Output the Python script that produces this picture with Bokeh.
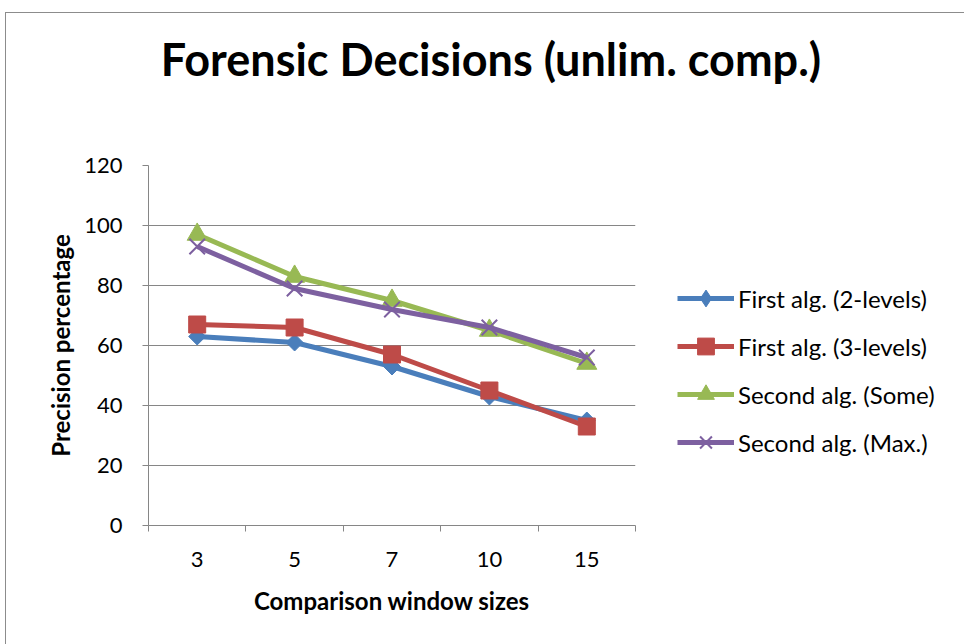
import math
from bokeh.plotting import figure
from bokeh.models import (ColumnDataSource, FixedTicker, Legend, LegendItem, Range1d, Div)
from bokeh.layouts import column, row
from bokeh.embed import file_html
from bokeh.resources import INLINE

categories = ["3", "5", "7", "10", "15"]
first_2_levels = [63, 61, 53, 43, 35]
first_3_levels = [67, 66, 57, 45, 33]
second_some = [97, 83, 75, 65, 54]
second_max = [93, 79, 72, 66, 56]
y_ticks = [0, 20, 40, 60, 80, 100, 120]

title_text = "Forensic Decisions (unlim. comp.)"
x_title = "Comparison window sizes"
y_title = "Precision percentage"

FONT = "Lato"
GRAY = "#868686"

xs = list(range(len(categories)))

OX, OY = 6, 13          # offset of the chart area inside the window
TITLE_H = 100           # height of the title block
PLOT_W = 654            # width of the plotting figure
H = 644 - OY - TITLE_H  # height of plotting row

title = Div(text=f"<div style='margin-top:22px; margin-left:6px; width:{964 - OX}px; "
                 f"text-align:center; font-family:{FONT}; font-weight:bold; font-size:45px; "
                 f"color:black; white-space:nowrap; line-height:48px'>{title_text}</div>",
            width=964 - OX, height=TITLE_H)
title.margin = (0, 0, 0, 0)

p = figure(width=PLOT_W, height=H, output_backend="svg", toolbar_location=None,
           x_range=Range1d(-0.5, len(categories) - 0.5), y_range=Range1d(0, 120),
           min_border_left=148 - OX, min_border_right=PLOT_W + OX - 635,
           min_border_top=165 - OY - TITLE_H, min_border_bottom=119)
p.outline_line_color = None
p.background_fill_color = "white"
p.border_fill_color = "white"

# axes
p.xaxis.ticker = FixedTicker(ticks=xs, minor_ticks=[i - 0.5 for i in range(len(categories) + 1)])
p.xaxis.major_label_overrides = {i: c for i, c in enumerate(categories)}
p.xaxis.major_tick_out = 0
p.xaxis.major_tick_in = 0
p.xaxis.minor_tick_out = 6
p.xaxis.minor_tick_in = 0
p.xaxis.minor_tick_line_color = GRAY
p.xaxis.axis_line_color = GRAY
p.xaxis.major_label_standoff = 20
p.xaxis.major_label_text_font = FONT
p.xaxis.major_label_text_font_size = "22px"
p.xaxis.major_label_text_color = "black"
p.xaxis.axis_label = x_title
p.xaxis.axis_label_text_font = FONT
p.xaxis.axis_label_text_font_style = "bold"
p.xaxis.axis_label_text_font_size = "24px"
p.xaxis.axis_label_text_color = "black"
p.xaxis.axis_label_standoff = 16

p.yaxis.ticker = FixedTicker(ticks=y_ticks)
p.yaxis.minor_tick_line_color = None
p.yaxis.major_tick_out = 6
p.yaxis.major_tick_in = 0
p.yaxis.major_tick_line_color = GRAY
p.yaxis.axis_line_color = GRAY
p.yaxis.major_label_standoff = 20
p.yaxis.major_label_text_font = FONT
p.yaxis.major_label_text_font_size = "22px"
p.yaxis.major_label_text_color = "black"
p.yaxis.axis_label = y_title
p.yaxis.axis_label_text_font = FONT
p.yaxis.axis_label_text_font_style = "bold"
p.yaxis.axis_label_text_font_size = "24px"
p.yaxis.axis_label_text_color = "black"
p.yaxis.axis_label_standoff = 6

p.xgrid.grid_line_color = None
p.ygrid.grid_line_color = GRAY
p.ygrid.grid_line_width = 1

# name, values, colour, plot marker, size, angle, legend marker
series = [
    ("First alg. (2-levels)", first_2_levels, "#4A7EBB", "square", 12, math.pi / 4, "diamond"),
    ("First alg. (3-levels)", first_3_levels, "#BE4B48", "square", 17, 0.0, "square"),
    ("Second alg. (Some)", second_some, "#98B954", "triangle", 20, 0.0, "triangle"),
    ("Second alg. (Max.)", second_max, "#7D60A0", "x", 22, 0.0, "x"),
]

# legend lives in its own figure to the right of the plot
lg = figure(width=964 - OX - PLOT_W, height=H, output_backend="svg", toolbar_location=None,
            x_range=Range1d(0, 1), y_range=Range1d(0, 1), x_axis_type=None, y_axis_type=None,
            min_border=0)
lg.outline_line_color = None
lg.grid.visible = False


def draw(fig, src, color, marker, size, angle):
    r1 = fig.line("x", "y", source=src, line_color=color, line_width=5)
    if marker == "x":
        r2 = fig.scatter("x", "y", source=src, marker=marker, size=size,
                         line_color=color, line_width=2)
    else:
        r2 = fig.scatter("x", "y", source=src, marker=marker, size=size, angle=angle,
                         fill_color=color, line_color=color)
    return r1, r2


items = []
for name, vals, color, marker, size, angle, lmarker in series:
    src = ColumnDataSource(dict(x=xs, y=vals))
    draw(p, src, color, marker, size, angle)
    # the same series in the legend figure: out of its range, only the swatch shows
    l1, l2 = draw(lg, src, color, lmarker, size, 0.0)
    items.append(LegendItem(label=name, renderers=[l1, l2]))

legend = Legend(items=items, location=(17, 62), orientation="vertical",
                glyph_width=57, glyph_height=42, label_height=42, spacing=6,
                label_standoff=4, padding=0, margin=0,
                border_line_color=None, background_fill_alpha=0,
                label_text_font=FONT, label_text_font_size="24px",
                label_text_color="black")
lg.add_layout(legend, "center")

layout = column(title, row(p, lg, spacing=0), spacing=0)
layout.margin = (OY, 0, 0, OX)
layout.styles = {"outline": "1px solid #8c8c8c", "background-color": "white"}

open("out.html", "w").write(file_html(layout, INLINE))
